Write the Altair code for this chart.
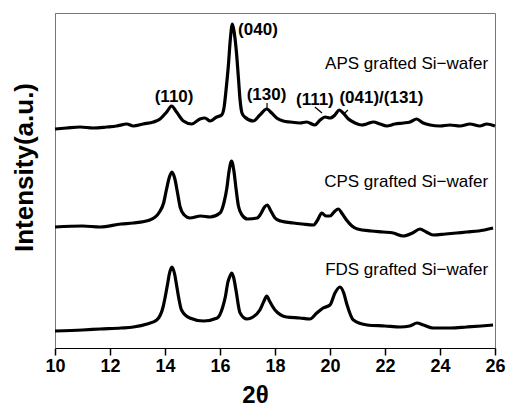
import altair as alt
import pandas as pd

# ---- data (intensity in arbitrary units, curves stacked) ----
aps_x = [10.0, 10.42, 10.91, 11.39, 11.88, 12.24, 12.61, 12.85, 13.21, 13.58, 13.82, 14.06, 14.24, 14.42,
         14.67, 14.97, 15.27, 15.45, 15.64, 15.88, 16.06, 16.15, 16.22, 16.3, 16.38, 16.45, 16.52, 16.6,
         16.67, 16.73, 16.8, 16.9, 17.21, 17.45, 17.7, 17.88, 18.06, 18.3, 18.55, 18.91, 19.15, 19.45,
         19.64, 19.82, 20.0, 20.18, 20.34, 20.48, 20.67, 20.91, 21.15, 21.33, 21.58, 21.82, 22.06, 22.36,
         22.67, 22.91, 23.15, 23.39, 23.64, 24.0, 24.36, 24.73, 25.09, 25.45, 25.7, 26.0]
aps_y = [219, 220, 221, 220, 221, 222, 224, 222, 224, 226, 229, 236, 242, 236,
         227, 224, 229, 230, 227, 231, 233, 241, 258, 281, 310, 324, 315, 295,
         270, 248, 235, 231, 227, 233, 239, 235, 230, 227, 226, 225, 226, 223,
         228, 231, 230, 233, 238, 235, 229, 225, 223, 224, 226, 224, 222, 224,
         225, 226, 229, 225, 223, 222, 223, 222, 224, 222, 224, 222]

cps_x = [10.0, 11.0, 11.64, 12.4, 12.85, 13.45, 13.8, 13.95, 14.05, 14.15, 14.25, 14.35, 14.45, 14.55,
         14.7, 14.9, 15.3, 15.64, 16.0, 16.15, 16.25, 16.33, 16.42, 16.5, 16.58, 16.67, 16.8, 17.0,
         17.35, 17.5, 17.62, 17.72, 17.85, 18.0, 18.2, 18.67, 19.0, 19.4, 19.55, 19.7, 19.85, 20.0,
         20.15, 20.3, 20.45, 20.6, 20.8, 21.0, 21.5, 21.93, 22.3, 22.66, 23.0, 23.27, 23.5, 23.75,
         24.2, 24.6, 24.97, 25.4, 25.93]
cps_y = [121, 122, 121, 124, 125, 128, 136, 145, 158, 170, 176, 170, 156, 141,
         133, 130, 132, 131, 135, 146, 160, 177, 187, 178, 160, 142, 133, 129,
         130, 135, 141, 143, 137, 130, 127, 125, 124, 123, 128, 135, 132, 132,
         136, 139, 134, 128, 122, 119, 117, 116, 115, 112, 115, 119, 116, 113,
         114, 115, 116, 117, 120]

fds_x = [10.0, 11.0, 11.64, 12.4, 12.85, 13.35, 13.7, 13.93, 14.0, 14.1, 14.15, 14.25, 14.35, 14.42,
         14.5, 14.6, 14.9, 15.4, 15.9, 16.1, 16.2, 16.28, 16.35, 16.43, 16.5, 16.58, 16.73, 16.98,
         17.2, 17.45, 17.6, 17.7, 17.8, 18.0, 18.42, 18.9, 19.27, 19.52, 19.75, 20.0, 20.18, 20.36,
         20.5, 20.6, 20.85, 21.35, 22.0, 22.55, 22.9, 23.16, 23.4, 23.75, 24.4, 24.97, 25.5, 25.93]
fds_y = [17, 18, 19, 20, 21, 24, 28, 41, 50, 65, 73, 81, 74, 63,
         50, 38, 30, 27, 30, 41, 52, 65, 71, 75, 70, 58, 35, 29,
         31, 38, 47, 52, 47, 38, 31, 30, 29, 35, 40, 43, 55, 61,
         55, 45, 28, 23, 22, 21, 22, 25, 23, 20, 20, 21, 22, 23]

series_names = ["APS grafted Si\u2212wafer", "CPS grafted Si\u2212wafer", "FDS grafted Si\u2212wafer"]
series_label_x = [25.75, 25.75, 25.75]
series_label_y = [284, 166, 78]

peak_labels = ["(040)", "(110)", "(130)", "(111)", "(041)/(131)"]
peak_label_x = [17.38, 14.33, 17.69, 19.45, 21.87]
peak_label_y = [318, 251, 253, 248, 250]

arrow_x = [17.71, 19.45, 20.65]
arrow_y = [245, 241, 238]
arrow_x2 = [17.71, 19.71, 20.47]
arrow_y2 = [240, 235, 233]

# ---- tables ----
rows = []
for name, xs, ys in zip(series_names, [aps_x, cps_x, fds_x], [aps_y, cps_y, fds_y]):
    for a, b in zip(xs, ys):
        rows.append({"theta": a, "I": b, "series": name})
curves = pd.DataFrame(rows)
labels = pd.DataFrame({"x": series_label_x, "y": series_label_y, "t": series_names})
peaks = pd.DataFrame({"x": peak_label_x, "y": peak_label_y, "t": peak_labels})
arrows = pd.DataFrame({"x": arrow_x, "y": arrow_y, "x2": arrow_x2, "y2": arrow_y2})

FONT = "Liberation Sans"
xscale = alt.Scale(domain=[10, 26], nice=False, zero=False)
yscale = alt.Scale(domain=[0, 335], nice=False, zero=False)

x_axis = alt.Axis(
    values=list(range(10, 27)),
    labelExpr="datum.value % 2 === 0 ? datum.label : ''",
    tickSize={"condition": {"test": "datum.value % 2 === 0", "value": 7}, "value": 4},
    tickColor="black", tickWidth=1.5,
    domainColor="black", domainWidth=1,
    labelFont=FONT, labelFontSize=18, labelFontWeight="bold", labelColor="black",
    labelPadding=2, labelFlush=False, grid=False,
    title="2\u03b8", titleFont=FONT, titleFontSize=24, titleFontWeight="bold", titleColor="black",
    titleX=200, titleY=47, titleBaseline="middle", titleAlign="center",
)
y_axis = alt.Axis(
    labels=False, ticks=False, grid=False, domainColor="#777", domainWidth=1,
    title="Intensity(a.u.)", titleFont=FONT, titleFontSize=26, titleFontWeight="bold",
    titleColor="black", titleAngle=270, titleX=-31, titleY=154,
    titleBaseline="middle", titleAlign="center",
)

lines = alt.Chart(curves).mark_line(color="black", strokeWidth=3.2, interpolate="monotone").encode(
    x=alt.X("theta:Q", scale=xscale, axis=x_axis),
    y=alt.Y("I:Q", scale=yscale, axis=y_axis),
    detail="series:N",
)

series_text = alt.Chart(labels).mark_text(
    align="right", baseline="middle", font=FONT, fontSize=17, color="black"
).encode(x=alt.X("x:Q", scale=xscale), y=alt.Y("y:Q", scale=yscale), text="t:N")

peak_text = alt.Chart(peaks).mark_text(
    align="center", baseline="middle", font=FONT, fontSize=17, fontWeight="bold", color="black"
).encode(x=alt.X("x:Q", scale=xscale), y=alt.Y("y:Q", scale=yscale), text="t:N")

arrow_rules = alt.Chart(arrows).mark_rule(color="black", strokeWidth=1.2).encode(
    x=alt.X("x:Q", scale=xscale), y=alt.Y("y:Q", scale=yscale),
    x2="x2:Q", y2="y2:Q",
)

chart = alt.layer(lines, arrow_rules, peak_text, series_text).properties(
    width=440, height=335,
    autosize=alt.AutoSizeParams(type="none"),
    padding={"left": 55, "top": 13, "right": 12, "bottom": 58},
    background="white",
).configure_view(stroke="#777", strokeWidth=1)

chart.save("out.html", embed_options={"renderer": "svg", "actions": False})
